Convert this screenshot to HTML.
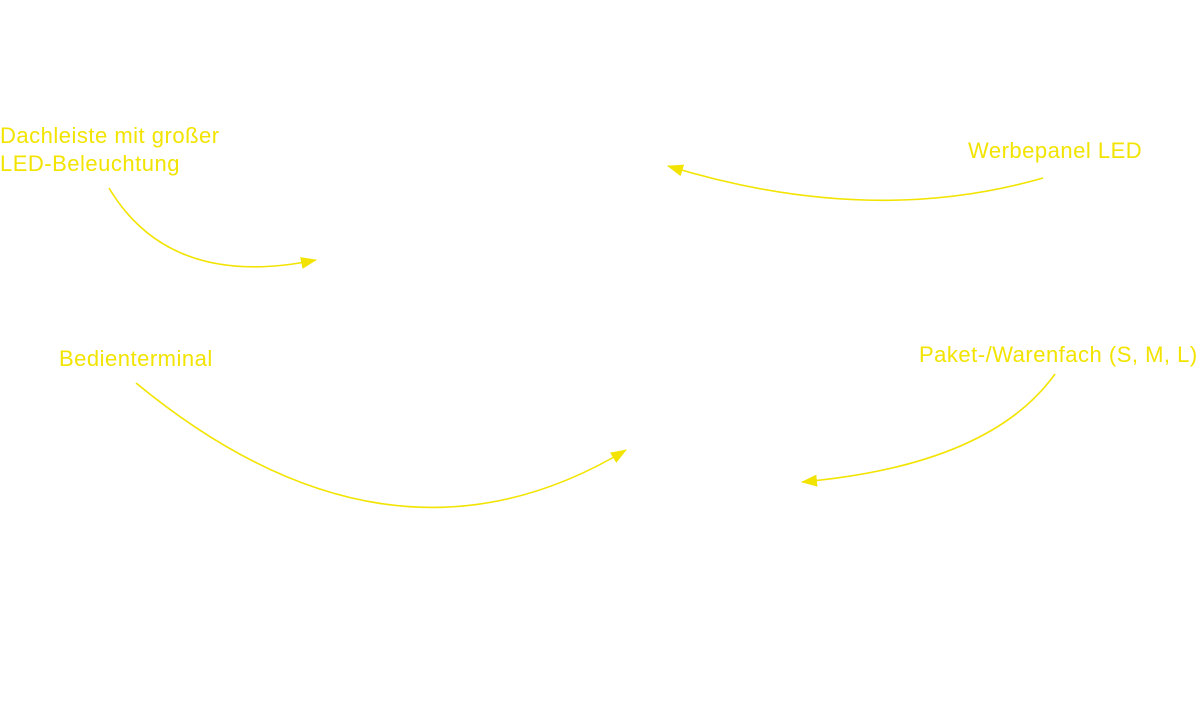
<!DOCTYPE html>
<html><head><meta charset="utf-8"><style>
html,body{margin:0;padding:0;background:#fff;}
body{width:1201px;height:711px;position:relative;overflow:hidden;font-family:"Liberation Sans",sans-serif;}
.t{position:absolute;color:#f2e400;font-size:22px;letter-spacing:0.5px;line-height:28px;white-space:nowrap;}
svg{position:absolute;left:0;top:0;}
</style></head><body>
<svg width="1201" height="711" viewBox="0 0 1201 711">
<defs><marker id="a" markerWidth="16" markerHeight="12" refX="15" refY="6" orient="auto" markerUnits="userSpaceOnUse"><path d="M0,0 L16,6 L0,12 z" fill="#f2e400"/></marker></defs>
<g fill="none" stroke="#f2e400" stroke-width="1.6">
<path d="M109,188 Q170,290 316,260" marker-end="url(#a)"/>
<path d="M1043,178 Q870,228 668,166" marker-end="url(#a)"/>
<path d="M136,383 Q390,592 626,450" marker-end="url(#a)"/>
<path d="M1055,374 Q990,465 802,482" marker-end="url(#a)"/>
</g>
</svg>
<div class="t" style="left:0;top:122px;">Dachleiste mit großer<br>LED-Beleuchtung</div>
<div class="t" style="left:968px;top:137px;">Werbepanel LED</div>
<div class="t" style="left:59px;top:345px;">Bedienterminal</div>
<div class="t" style="left:919px;top:341px;">Paket-/Warenfach (S, M, L)</div>
</body></html>
